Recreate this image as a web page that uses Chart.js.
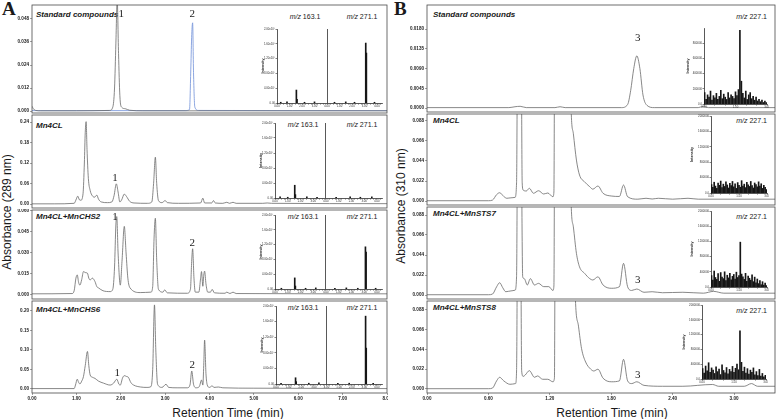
<!DOCTYPE html>
<html>
<head>
<meta charset="utf-8">
<script src="https://cdn.jsdelivr.net/npm/chart.js@4.4.1/dist/chart.umd.min.js"></script>
<style>
body { margin: 0; background: #fff; width: 776px; height: 419px; overflow: hidden; position: relative; font-family: "Liberation Sans", Arial, sans-serif; }
canvas { position: absolute; }
.t { position: absolute; white-space: nowrap; color: #1a1a1a; }
.ttl { font: italic bold 8px "Liberation Sans", Arial, sans-serif; line-height: 10px; }
.mz { font: 7px "Liberation Sans", Arial, sans-serif; line-height: 8px; }
.ax { font: 12px "Liberation Sans", Arial, sans-serif; line-height: 14px; }
.pl { font: bold 19px "Liberation Serif", "Times New Roman", serif; line-height: 20px; }
</style>
</head>
<body>
<div class="t pl" style="left:2px;top:-1px">A</div>
<div class="t pl" style="left:394px;top:-1px">B</div>

<div class="t ax" style="left:7px;top:212px;transform:translate(-50%,-50%) rotate(-90deg)">Absorbance (289 nm)</div>
<div class="t ax" style="left:401px;top:206px;transform:translate(-50%,-50%) rotate(-90deg)">Absorbance (310 nm)</div>
<div class="t ax" style="left:228px;top:413px;transform:translate(-50%,-50%)">Retention Time (min)</div>
<div class="t ax" style="left:612px;top:413px;transform:translate(-50%,-50%)">Retention Time (min)</div>

<div class="t ttl" style="left:36px;top:10px">Standard compounds</div>
<div class="t ttl" style="left:36px;top:121px">Mn4CL</div>
<div class="t ttl" style="left:36px;top:212px">Mn4CL+MnCHS2</div>
<div class="t ttl" style="left:36px;top:305px">Mn4CL+MnCHS6</div>
<div class="t ttl" style="left:433px;top:10px">Standard compounds</div>
<div class="t ttl" style="left:433px;top:116px">Mn4CL</div>
<div class="t ttl" style="left:433px;top:209px">Mn4CL+MnSTS7</div>
<div class="t ttl" style="left:433px;top:303px">Mn4CL+MnSTS8</div>

<div class="t mz" style="left:305px;top:13px;transform:translateX(-50%)"><i>m/z</i> 163.1</div>
<div class="t mz" style="left:362px;top:13px;transform:translateX(-50%)"><i>m/z</i> 271.1</div>
<div class="t mz" style="left:303px;top:121px;transform:translateX(-50%)"><i>m/z</i> 163.1</div>
<div class="t mz" style="left:362px;top:121px;transform:translateX(-50%)"><i>m/z</i> 271.1</div>
<div class="t mz" style="left:303px;top:213px;transform:translateX(-50%)"><i>m/z</i> 163.1</div>
<div class="t mz" style="left:362px;top:213px;transform:translateX(-50%)"><i>m/z</i> 271.1</div>
<div class="t mz" style="left:303px;top:304px;transform:translateX(-50%)"><i>m/z</i> 163.1</div>
<div class="t mz" style="left:362px;top:304px;transform:translateX(-50%)"><i>m/z</i> 271.1</div>
<div class="t mz" style="right:9px;top:13px"><i>m/z</i> 227.1</div>
<div class="t mz" style="right:9px;top:117px"><i>m/z</i> 227.1</div>
<div class="t mz" style="right:9px;top:213px"><i>m/z</i> 227.1</div>
<div class="t mz" style="right:9px;top:307px"><i>m/z</i> 227.1</div>

<script>
// chromatograms, [retention time (min), absorbance]
const std1_289 = [[0,0.0025],[0.03,0.0012],[0.08,0.0003],[0.2,0.0001],[1.0,0.0001],[1.75,0.0003],[1.82,0.002],[1.86,0.012],[1.89,0.035],[1.92,0.058],[1.95,0.03],[1.98,0.008],[2.02,0.002],[2.1,0.0012],[2.2,0.0004],[2.5,0.0001],[8,0.0001]];
const std2_289 = [[0,0.0002],[3.45,0.0002],[3.55,0.0008],[3.58,0.023],[3.6,0.04],[3.62,0.046],[3.64,0.02],[3.67,0.002],[3.75,0.0003],[8,0.0002]];
const mn4cl_289 = [[0,0.0005],[0.5,0.0005],[0.95,0.002],[1.0,0.015],[1.03,0.023],[1.07,0.012],[1.1,0.011],[1.15,0.03],[1.18,0.12],[1.2,0.21],[1.22,0.241],[1.24,0.16],[1.27,0.075],[1.31,0.04],[1.36,0.024],[1.41,0.02],[1.46,0.026],[1.5,0.014],[1.56,0.006],[1.7,0.004],[1.8,0.006],[1.85,0.025],[1.9,0.059],[1.94,0.035],[1.98,0.006],[2.02,0.012],[2.08,0.029],[2.13,0.022],[2.2,0.008],[2.3,0.003],[2.6,0.002],[2.7,0.006],[2.74,0.06],[2.78,0.137],[2.81,0.06],[2.85,0.01],[2.93,0.004],[3.0,0.01],[3.05,0.004],[3.3,0.002],[3.8,0.003],[3.85,0.017],[3.89,0.003],[4.05,0.003],[4.09,0.01],[4.13,0.003],[4.3,0.002],[4.39,0.005],[4.45,0.002],[4.53,0.005],[4.6,0.002],[5.2,0.002],[5.3,0.003],[5.4,0.002],[8,0.001]];
const chs2_289 = [[0,0.0008],[0.9,0.001],[0.95,0.003],[0.99,0.012],[1.02,0.0143],[1.05,0.009],[1.08,0.007],[1.12,0.011],[1.16,0.0167],[1.2,0.016],[1.25,0.0155],[1.28,0.012],[1.31,0.0107],[1.36,0.012],[1.42,0.0095],[1.46,0.006],[1.5,0.005],[1.6,0.003],[1.76,0.0024],[1.82,0.004],[1.86,0.02],[1.89,0.05],[1.91,0.056],[1.94,0.03],[1.99,0.007],[2.03,0.025],[2.08,0.049],[2.12,0.03],[2.16,0.012],[2.21,0.005],[2.44,0.0017],[2.68,0.002],[2.72,0.006],[2.75,0.04],[2.78,0.0548],[2.81,0.025],[2.85,0.004],[2.95,0.002],[2.99,0.0036],[3.05,0.0015],[3.5,0.0012],[3.57,0.004],[3.6,0.025],[3.62,0.033],[3.65,0.012],[3.68,0.002],[3.76,0.002],[3.8,0.012],[3.82,0.0167],[3.85,0.0062],[3.87,0.014],[3.89,0.017],[3.92,0.008],[3.96,0.002],[4.02,0.002],[4.06,0.004],[4.11,0.0015],[4.35,0.0012],[4.39,0.002],[4.46,0.001],[4.53,0.002],[4.6,0.001],[8,0.0008]];
const chs6_289 = [[0,0.001],[0.95,0.001],[0.98,0.01],[1.02,0.025],[1.05,0.017],[1.08,0.013],[1.12,0.02],[1.16,0.032],[1.2,0.06],[1.25,0.096],[1.28,0.06],[1.31,0.036],[1.36,0.03],[1.42,0.027],[1.5,0.02],[1.61,0.015],[1.76,0.01],[1.84,0.015],[1.91,0.025],[1.96,0.012],[1.99,0.01],[2.04,0.028],[2.08,0.034],[2.13,0.032],[2.17,0.03],[2.23,0.016],[2.29,0.01],[2.45,0.005],[2.59,0.004],[2.68,0.006],[2.72,0.05],[2.76,0.215],[2.79,0.1],[2.83,0.012],[2.93,0.004],[3.02,0.012],[3.08,0.004],[3.27,0.003],[3.5,0.003],[3.56,0.01],[3.6,0.046],[3.64,0.012],[3.7,0.003],[3.77,0.006],[3.82,0.023],[3.85,0.01],[3.87,0.06],[3.89,0.125],[3.92,0.04],[3.95,0.01],[4.0,0.004],[4.06,0.008],[4.1,0.004],[4.2,0.005],[4.3,0.003],[5.0,0.002],[8,0.001]];

const std3_310 = [[0,0.0001],[0.8,0.0001],[0.86,0.0003],[0.91,0.0004],[0.97,0.0001],[1.25,0.0001],[1.3,0.0003],[1.35,0.0001],[1.9,0.0001],[1.96,0.0008],[1.99,0.004],[2.02,0.009],[2.05,0.0119],[2.08,0.009],[2.11,0.003],[2.15,0.0006],[2.22,0.0001],[2.65,0.0001],[2.7,0.0004],[2.75,0.0001],[3.4,0.0001]];
const mn4cl_310 = [[0,0.0003],[0.6,0.0003],[0.64,0.001],[0.68,0.007],[0.71,0.0091],[0.75,0.005],[0.78,0.003],[0.82,0.0035],[0.86,0.004],[0.875,0.02],[0.885,0.2],[0.9,0.35],[0.92,0.2],[0.93,0.02],[0.94,0.012],[0.97,0.011],[1.0,0.014],[1.04,0.0085],[1.09,0.0113],[1.14,0.0077],[1.18,0.0088],[1.23,0.0047],[1.24,0.01],[1.25,0.3],[1.32,0.5],[1.39,0.2],[1.41,0.095],[1.43,0.074],[1.46,0.045],[1.49,0.0286],[1.54,0.021],[1.59,0.0157],[1.62,0.013],[1.67,0.0165],[1.72,0.0085],[1.8,0.0055],[1.88,0.005],[1.92,0.0176],[1.96,0.0047],[2.06,0.002],[2.14,0.003],[2.2,0.0022],[2.26,0.003],[2.4,0.002],[2.55,0.003],[2.65,0.002],[3.4,0.002]];
const sts7_310 = [[0,0.0003],[0.6,0.0003],[0.64,0.001],[0.68,0.009],[0.71,0.0135],[0.74,0.008],[0.77,0.0036],[0.82,0.0045],[0.86,0.0053],[0.875,0.02],[0.885,0.2],[0.9,0.35],[0.92,0.2],[0.935,0.02],[0.95,0.018],[0.98,0.011],[1.01,0.018],[1.05,0.011],[1.09,0.0128],[1.14,0.0092],[1.19,0.0092],[1.23,0.005],[1.24,0.01],[1.25,0.3],[1.32,0.5],[1.39,0.2],[1.41,0.095],[1.43,0.075],[1.46,0.0458],[1.49,0.031],[1.54,0.0238],[1.59,0.018],[1.62,0.0165],[1.67,0.02],[1.72,0.011],[1.8,0.0074],[1.88,0.0091],[1.92,0.0348],[1.96,0.0091],[2.0,0.005],[2.05,0.0066],[2.12,0.003],[2.2,0.0036],[2.3,0.0025],[2.5,0.003],[2.7,0.002],[2.8,0.004],[2.9,0.002],[3.4,0.002]];
const sts8_310 = [[0,0.0003],[0.6,0.0003],[0.64,0.001],[0.68,0.009],[0.71,0.013],[0.75,0.009],[0.81,0.0052],[0.865,0.006],[0.875,0.02],[0.885,0.2],[0.9,0.35],[0.915,0.2],[0.925,0.02],[0.94,0.014],[0.96,0.0156],[1.0,0.0204],[1.05,0.013],[1.08,0.0145],[1.13,0.0108],[1.18,0.0108],[1.23,0.008],[1.245,0.012],[1.255,0.3],[1.33,0.5],[1.42,0.25],[1.45,0.1],[1.48,0.07],[1.51,0.045],[1.55,0.03],[1.6,0.022],[1.63,0.02],[1.67,0.022],[1.72,0.012],[1.8,0.008],[1.88,0.009],[1.92,0.033],[1.96,0.009],[2.0,0.006],[2.05,0.008],[2.12,0.004],[2.3,0.003],[2.5,0.003],[2.79,0.005],[2.85,0.003],[3.1,0.003],[3.17,0.006],[3.23,0.003],[3.4,0.003]];

// peak numbers [label, time, absorbance]
const peaksA1 = [['1',2.01,0.0506],['2',3.61,0.0506]];
const peaksA2 = [['1',1.87,0.076]];
const peaksA3 = [['1',1.87,0.0557],['2',3.61,0.037]];
const peaksA4 = [['1',1.92,0.041],['2',3.61,0.0615]];
const peaksB1 = [['3',2.06,0.016]];
const peaksB3 = [['3',2.06,0.0165]];
const peaksB4 = [['3',2.06,0.0155]];

// tick labels
const xTicksA = [0,1,2,3,4,5,6,7,8];
const xTicksB = [0,0.6,1.2,1.8,2.4,3.0];
const yTicksA1 = [0,0.012,0.024,0.036,0.048];
const yTicksA2 = [0,0.06,0.12,0.18,0.24];
const yTicksA3 = [0,0.015,0.03,0.045,0.06];
const yTicksA4 = [0,0.05,0.1,0.15,0.2];
const yTicksB1 = [0,0.0045,0.009,0.0135,0.018];
const yTicksB = [0,0.022,0.044,0.066,0.088];

// mass spectra insets, panel A: [axis position, intensity]; divider at 4
const msA1 = [[0.3,20000],[0.8,30000],[1.55,350000],[1.6,100000],[2.2,20000],[3.0,30000],[4.6,20000],[5.5,30000],[6.2,20000],[7.1,1620000],[7.15,1350000],[7.8,20000]];
const msA2 = [[0.4,30000],[1.0,20000],[1.55,340000],[1.6,90000],[2.5,30000],[3.3,20000],[4.8,20000],[5.9,30000],[6.7,20000],[7.6,30000]];
const msA3 = [[0.5,20000],[1.55,300000],[1.6,80000],[2.4,20000],[3.2,30000],[4.7,20000],[5.6,30000],[6.5,20000],[7.1,1140000],[7.15,1000000],[7.9,20000]];
const msA4 = [[0.4,20000],[1.55,160000],[1.6,60000],[2.6,20000],[3.4,30000],[4.9,20000],[5.8,20000],[7.1,1740000],[7.15,920000],[7.7,20000]];
const yTicksMsA = [0,400000,800000,1200000,1600000,2000000];
const xTicksMsA = [0,1,2,3,4,5,6,7,8];

// mass spectra insets, panel B (m/z 227.1)
const scanB = [0.03,0.10,0.17,0.24,0.31,0.38,0.45,0.52,0.59,0.66,0.73,0.80,0.87,0.94,1.01,1.08,1.15,1.22,1.29,1.36,1.43,1.50,1.57,1.64,1.71,1.78,1.85,1.92,1.99,2.06,2.13,2.20,2.27,2.34,2.41,2.48,2.55,2.62,2.69,2.76,2.83,2.90,2.97];
const msB1 = [150000,60000,120000,90000,170000,50000,110000,80000,140000,60000,100000,180000,70000,130000,90000,60000,150000,80000,120000,100000,70000,160000,110000,190000,970000,300000,140000,80000,170000,60000,120000,150000,70000,100000,50000,90000,40000,60000,30000,50000,20000,40000,20000];
const msB2 = [220000,150000,280000,180000,120000,260000,200000,310000,140000,230000,170000,290000,210000,130000,250000,190000,300000,160000,240000,120000,270000,200000,150000,320000,180000,230000,140000,280000,210000,170000,300000,190000,130000,260000,220000,160000,290000,180000,240000,120000,200000,150000,90000];
const msB3 = [300000,180000,420000,250000,200000,350000,150000,380000,260000,220000,400000,170000,310000,240000,360000,190000,280000,330000,210000,390000,250000,300000,1180000,340000,270000,200000,360000,150000,290000,230000,180000,320000,140000,260000,110000,210000,90000,170000,60000,140000,50000,100000,40000];
const msB4 = [280000,160000,350000,220000,440000,180000,300000,240000,150000,330000,200000,270000,120000,380000,230000,170000,310000,140000,260000,200000,340000,180000,290000,400000,250000,1300000,450000,210000,320000,160000,280000,130000,240000,180000,300000,110000,200000,90000,260000,80000,150000,60000,100000];
const yTicksMsB1 = [0,200000,400000,600000,800000];
const yTicksMsB = [0,400000,800000,1200000,1600000,2000000];
const xTicksMsB = [0,1.5,3.0];

const GRAY = '#6a6a6a', BLUE = '#6f8fd8';
const FONT = '"Liberation Sans", Arial, sans-serif';

function addCanvas(left, top, w, h) {
    const cv = document.createElement('canvas');
    cv.width = w; cv.height = h;
    cv.style.left = left + 'px'; cv.style.top = top + 'px';
    cv.style.width = w + 'px'; cv.style.height = h + 'px';
    document.body.appendChild(cv);
    return cv;
}

const frame = {
    id: 'frame',
    afterDraw(ch) {
        const a = ch.chartArea, c = ch.ctx;
        c.save();
        c.strokeStyle = '#4a4a4a'; c.lineWidth = 0.8;
        c.strokeRect(a.left, a.top, a.right - a.left, a.bottom - a.top);
        c.restore();
    }
};

function peakText(items) {
    return {
        id: 'peakText',
        afterDatasetsDraw(ch) {
            const c = ch.ctx, xs = ch.scales.x, ys = ch.scales.y;
            c.save();
            c.font = '11px "Liberation Serif", "Times New Roman", serif';
            c.fillStyle = '#222'; c.textAlign = 'center'; c.textBaseline = 'middle';
            items.forEach(([s, t, v]) => c.fillText(s, xs.getPixelForValue(t), ys.getPixelForValue(v)));
            c.restore();
        }
    };
}

function mainPlot(p) {
    const xh = p.xTicks ? 11 : 0;
    const cv = addCanvas(p.l - p.yw, p.t - 1, p.r - p.l + p.yw + 1, p.b - p.t + 2 + xh);
    new Chart(cv, {
        type: 'line',
        data: {
            datasets: p.series.map(([pts, col]) => ({
                data: pts.map(([x, y]) => ({ x, y })),
                borderColor: col, borderWidth: 0.8, pointRadius: 0,
                cubicInterpolationMode: 'monotone', fill: false
            }))
        },
        options: {
            animation: false, responsive: false, events: [],
            layout: { padding: { top: 1, right: 1, bottom: 1, left: 0 } },
            plugins: { legend: { display: false }, tooltip: { enabled: false } },
            scales: {
                x: {
                    type: 'linear', min: 0, max: p.xMax, display: !!p.xTicks,
                    afterFit: s => { s.height = xh; s.paddingLeft = 0; s.paddingRight = 0; },
                    afterBuildTicks: s => { if (p.xTicks) s.ticks = p.xTicks.map(v => ({ value: v })); },
                    ticks: { font: { size: 4.6, weight: 'bold', family: FONT }, color: '#222', padding: 1, maxRotation: 0, autoSkip: false,
                             callback: v => Number(v).toFixed(2) },
                    grid: { drawOnChartArea: false, tickLength: 2, color: '#444', lineWidth: 0.5 },
                    border: { display: false }
                },
                y: {
                    type: 'linear', min: p.yMin, max: p.yMax,
                    afterFit: s => { s.width = p.yw; s.paddingTop = 0; s.paddingBottom = 0; },
                    afterBuildTicks: s => { s.ticks = p.yTicks.map(v => ({ value: v })); },
                    ticks: { font: { size: 4.6, weight: 'bold', family: FONT }, color: '#222', padding: 1,
                             callback: v => Number(v).toFixed(p.dec) },
                    grid: { drawOnChartArea: false, tickLength: 2, color: '#444', lineWidth: 0.5 },
                    border: { display: false }
                }
            }
        },
        plugins: [frame, peakText(p.peaks || [])]
    });
}

function inset(p) {
    const xh = 6, pad = 2;
    const cv = addCanvas(p.l - p.yw, p.t - pad, p.r - p.l + p.yw + pad, p.b - p.t + pad + xh);
    new Chart(cv, {
        type: 'bar',
        data: {
            datasets: [{
                data: p.data.map(([x, y]) => ({ x, y })),
                backgroundColor: '#161616', barThickness: 1, grouped: false
            }]
        },
        options: {
            animation: false, responsive: false, events: [],
            layout: { padding: { top: pad, right: pad, bottom: 0, left: 0 } },
            plugins: { legend: { display: false }, tooltip: { enabled: false } },
            scales: {
                x: {
                    type: 'linear', min: 0, max: p.xMax, offset: false,
                    afterFit: s => { s.height = xh; s.paddingLeft = 0; s.paddingRight = 0; },
                    afterBuildTicks: s => {
                        const t = [];
                        for (let v = 0; v <= p.xMax + 1e-9; v += p.minor) t.push({ value: Math.round(v * 100) / 100 });
                        s.ticks = t;
                    },
                    ticks: { font: { size: 2.8, family: FONT }, color: '#333', padding: 0.5, maxRotation: 0, autoSkip: false,
                             callback: v => p.xLab.includes(v) ? p.xFmt(v) : '' },
                    grid: { offset: false, drawOnChartArea: !!p.divider, tickLength: 1.5, tickColor: '#333', lineWidth: 0.7,
                            color: c => (p.divider && c.tick && c.tick.value === p.divider) ? '#111' : 'rgba(0,0,0,0)' },
                    border: { color: '#111', width: 0.7 }
                },
                y: {
                    min: 0, max: p.yMax,
                    afterFit: s => { s.width = p.yw; s.paddingTop = 0; s.paddingBottom = 0; },
                    afterBuildTicks: s => { s.ticks = p.yTicks.map(v => ({ value: v })); },
                    title: { display: true, text: 'Intensity', font: { size: 3.6, weight: 'bold', family: FONT }, color: '#222', padding: 0 },
                    ticks: { font: { size: 2.8, family: FONT }, color: '#333', padding: 0.5, callback: p.yFmt },
                    grid: { drawOnChartArea: false, tickLength: 1.5, color: '#333', lineWidth: 0.6 },
                    border: { color: '#111', width: 0.7 }
                }
            }
        }
    });
}

// panel A chromatograms
mainPlot({ l: 32, t: 5, r: 387, b: 113, yw: 32, xMax: 8, yMin: -0.00104, yMax: 0.0553, yTicks: yTicksA1, dec: 3,
           series: [[std1_289, GRAY], [std2_289, BLUE]], peaks: peaksA1 });
mainPlot({ l: 32, t: 115, r: 387, b: 208, yw: 32, xMax: 8, yMin: -0.0117, yMax: 0.2605, yTicks: yTicksA2, dec: 2,
           series: [[mn4cl_289, GRAY]], peaks: peaksA2 });
mainPlot({ l: 32, t: 210, r: 387, b: 299, yw: 32, xMax: 8, yMin: -0.0029, yMax: 0.0607, yTicks: yTicksA3, dec: 3,
           series: [[chs2_289, GRAY]], peaks: peaksA3 });
mainPlot({ l: 32, t: 301, r: 387, b: 393, yw: 32, xMax: 8, yMin: -0.0103, yMax: 0.225, yTicks: yTicksA4, dec: 2,
           series: [[chs6_289, GRAY]], peaks: peaksA4, xTicks: xTicksA });

// panel B chromatograms
mainPlot({ l: 427, t: 5, r: 775, b: 112, yw: 23, xMax: 3.4, yMin: -0.0009, yMax: 0.0235, yTicks: yTicksB1, dec: 4,
           series: [[std3_310, GRAY]], peaks: peaksB1 });
mainPlot({ l: 427, t: 114, r: 775, b: 205, yw: 23, xMax: 3.4, yMin: -0.0044, yMax: 0.0957, yTicks: yTicksB, dec: 3,
           series: [[mn4cl_310, GRAY]] });
mainPlot({ l: 427, t: 207, r: 775, b: 299, yw: 23, xMax: 3.4, yMin: -0.0044, yMax: 0.0968, yTicks: yTicksB, dec: 3,
           series: [[sts7_310, GRAY]], peaks: peaksB3 });
mainPlot({ l: 427, t: 301, r: 775, b: 393, yw: 23, xMax: 3.4, yMin: -0.0045, yMax: 0.098, yTicks: yTicksB, dec: 3,
           series: [[sts8_310, GRAY]], peaks: peaksB4, xTicks: xTicksB });

// MS insets
const fmtSci = v => {
    if (v === 0) return '0.00';
    const e = v >= 1e6 ? 6 : 5;
    return (v / Math.pow(10, e)).toFixed(2) + 'x10' + (e === 6 ? '\u2076' : '\u2075');
};
const fmtA = v => (v > 4 ? v - 4 : v).toFixed(2);
const fmtInt = v => v === 0 ? '0.0' : String(v);
const fmtB = v => v.toFixed(2);

[[msA1, 277, 29, 382, 103], [msA2, 275, 123, 382, 198], [msA3, 275, 215, 382, 289], [msA4, 276, 306, 382, 384]]
    .forEach(([d, l, t, r, b]) => inset({ data: d, l, t, r, b, yw: 16, xMax: 8.4, minor: 0.25, divider: 4,
        xLab: xTicksMsA, xFmt: fmtA, yMax: 2000000, yTicks: yTicksMsA, yFmt: fmtSci }));

const pairsB = arr => scanB.map((x, i) => [x, arr[i]]);
inset({ data: pairsB(msB1), l: 704, t: 28, r: 767, b: 104, yw: 18, xMax: 3.0, minor: 0.5, xLab: xTicksMsB, xFmt: fmtB,
        yMax: 1000000, yTicks: yTicksMsB1, yFmt: fmtInt });
inset({ data: pairsB(msB2), l: 711, t: 116, r: 767, b: 193, yw: 21, xMax: 3.0, minor: 0.5, xLab: xTicksMsB, xFmt: fmtB,
        yMax: 2000000, yTicks: yTicksMsB, yFmt: fmtInt });
inset({ data: pairsB(msB3), l: 711, t: 211, r: 767, b: 287, yw: 21, xMax: 3.0, minor: 0.5, xLab: xTicksMsB, xFmt: fmtB,
        yMax: 2000000, yTicks: yTicksMsB, yFmt: fmtInt });
inset({ data: pairsB(msB4), l: 702, t: 305, r: 766, b: 379, yw: 20, xMax: 3.0, minor: 0.5, xLab: xTicksMsB, xFmt: fmtB,
        yMax: 2000000, yTicks: yTicksMsB, yFmt: fmtInt });
</script>
</body>
</html>
